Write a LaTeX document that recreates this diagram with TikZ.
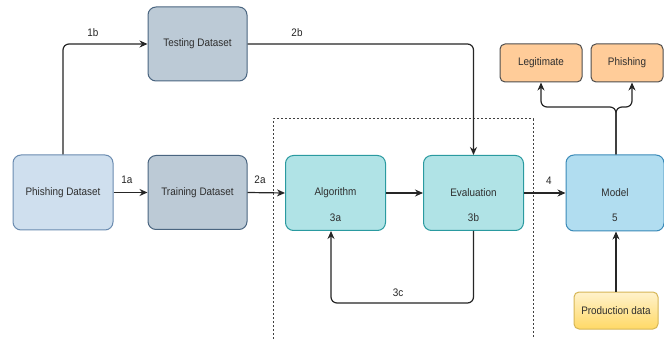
\documentclass[tikz,border=0pt]{standalone}
\usepackage{fontspec}
\setmainfont[FakeStretch=0.91]{Liberation Sans}
\usetikzlibrary{arrows.meta,calc}
\definecolor{srcfill}{HTML}{CFDFEE}
\definecolor{srcdraw}{HTML}{6A8BB0}
\definecolor{setfill}{HTML}{BCCAD6}
\definecolor{setdraw}{HTML}{4A6580}
\definecolor{procfill}{HTML}{B0E3E6}
\definecolor{procdraw}{HTML}{2A9AA0}
\definecolor{modfill}{HTML}{B1DDF0}
\definecolor{moddraw}{HTML}{3A8AB8}
\definecolor{outfill}{HTML}{FFCC99}
\definecolor{outdraw}{HTML}{4D4D4D}
\definecolor{prodtop}{HTML}{FFF2CC}
\definecolor{prodbot}{HTML}{FFD966}
\definecolor{proddraw}{HTML}{D6B656}
\definecolor{txt}{HTML}{2E2E2E}
\tikzset{
  box/.style={rectangle, rounded corners=8pt, line width=1pt, text=txt,
    font=\fontsize{10.9}{13}\selectfont, inner sep=0pt, align=center},
  srcbox/.style={box, fill=srcfill, draw=srcdraw, minimum width=100pt, minimum height=75pt},
  setbox/.style={box, fill=setfill, draw=setdraw, minimum width=99pt, minimum height=74pt},
  procbox/.style={box, fill=procfill, draw=procdraw, minimum width=100pt, minimum height=75pt},
  modbox/.style={box, fill=modfill, draw=moddraw, minimum width=98pt, minimum height=76pt},
  outbox/.style={box, fill=outfill, draw=outdraw, rounded corners=5pt, minimum height=38pt},
  prodbox/.style={box, top color=prodtop, bottom color=prodbot, draw=proddraw,
    rounded corners=5pt, minimum width=84pt, minimum height=37pt},
  tag/.style={text=black!85, font=\fontsize{10.9}{13}\selectfont, inner sep=0pt},
  arr/.style={line width=1.2pt, draw=black!85, rounded corners=6pt,
    -{Stealth[length=8pt,width=7pt]}},
  group/.style={line width=1pt, draw=black!75, dash pattern=on 2pt off 2pt}
}
\begin{document}
\begin{tikzpicture}[x=1pt,y=-1pt]
\useasboundingbox (0,0) rectangle (664,339);
\fill[white] (0,0) rectangle (664,339);

% training / evaluation group
\draw[group] (273,339) -- (273,119) -- (533,119) -- (533,339);

% data sources
\node[srcbox] (phd) at (63,192.5) {Phishing Dataset};
\node[setbox] (test) at (197.5,44) {Testing Dataset};
\node[setbox] (train) at (197.5,192.5) {Training Dataset};

% learning steps
\node[procbox] (alg) at (335.5,193) {};
\node[tag, text=txt] (algname) at (335.5,193) {Algorithm};
\node[tag, text=txt] (algnum) at (335.5,218) {3a};
\node[procbox] (eval) at (473.5,193) {};
\node[tag, text=txt] (evalname) at (473.5,193) {Evaluation};
\node[tag, text=txt] (evalnum) at (473.5,218) {3b};

% deployed model
\node[modbox] (model) at (615,193) {};
\node[tag, text=txt] (modname) at (615,193) {Model};
\node[tag, text=txt] (modnum) at (615,218) {5};
\node[prodbox] (prod) at (616,310.5) {Production data};

% outcomes
\node[outbox, minimum width=82pt] (legit) at (541,63) {Legitimate};
\node[outbox, minimum width=72pt] (phish) at (627,63) {Phishing};

% connectors
\coordinate (split) at (616,107);
\coordinate (loop) at (473.5,303);
\draw[arr] (phd.north) |- (test.west);
\draw[arr] (phd.east) -- (train.west);
\draw[arr] (test.east) -| (eval.north);
\draw[arr] (train.east) -- (alg.west);
\draw[arr] (alg.east) -- (eval.west);
\draw[arr] (eval.south) -- (loop) -| ([xshift=-4.5pt]alg.south);
\draw[arr] (eval.east) -- (model.west);
\draw[arr] (prod.north) -- (model.south -| prod.north);
\draw[arr] (model.north -| split) -- (split) -| (legit.south);
\draw[arr] (model.north -| split) -- (split) -| ([xshift=5pt]phish.south);

% step labels
\node[tag] (l1b) at (93,33) {1b};
\node[tag] (l2b) at (297,33) {2b};
\node[tag] (l1a) at (127,180) {1a};
\node[tag] (l2a) at (260,180) {2a};
\node[tag] (l4) at (549,181) {4};
\node[tag] (l3c) at (398,293) {3c};
\end{tikzpicture}
\end{document}
